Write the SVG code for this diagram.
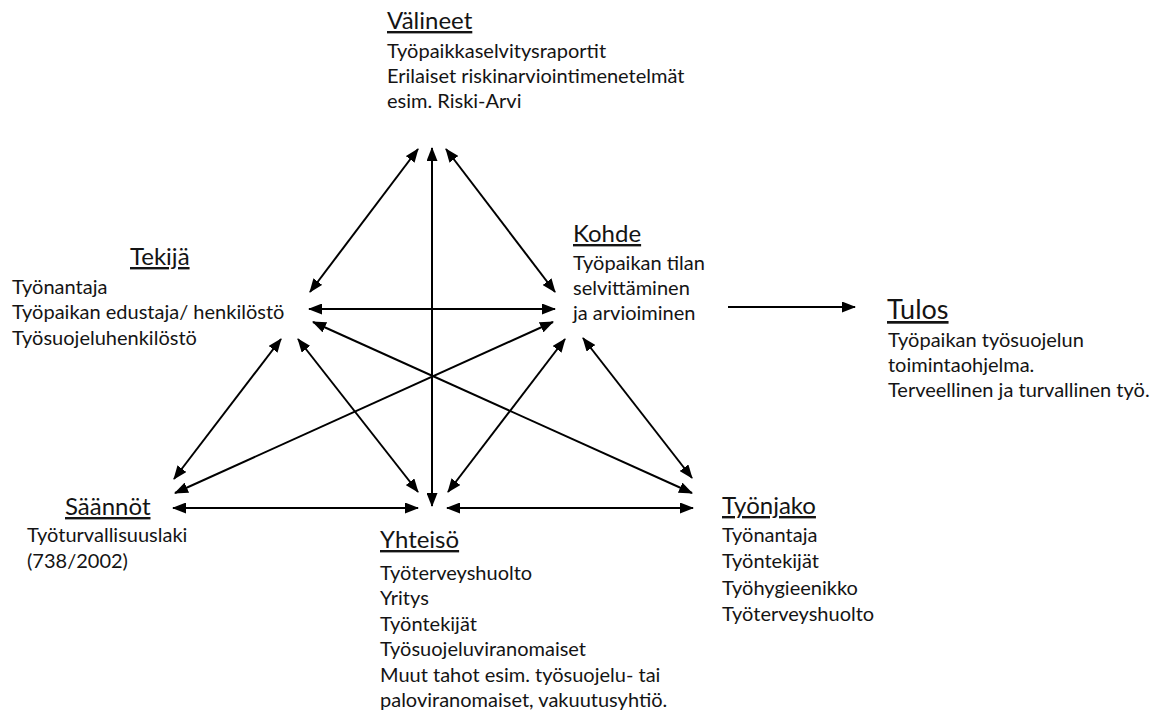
<svg xmlns="http://www.w3.org/2000/svg" width="1162" height="717" viewBox="0 0 1162 717">
  <style>
    text { font-family: Lato, "Open Sans", "Liberation Sans", sans-serif; fill: #141414; }
    .h { font-size: 24px; text-decoration: underline; }
    .h-big { font-size: 27px; text-decoration: underline; }
    .b { font-size: 20px; }
    .link { stroke: #000; stroke-width: 2; fill: none; }
    .two { marker-start: url(#head); marker-end: url(#head); }
    .one { marker-end: url(#head); }
  </style>
  <defs>
    <marker id="head" markerUnits="userSpaceOnUse" markerWidth="14" markerHeight="11" refX="13" refY="5.5" orient="auto-start-reverse">
      <path d="M0,0 L14,5.5 L0,11 Z" fill="#000"/>
    </marker>
  </defs>
  <rect width="1162" height="717" fill="#fff"/>

  <!-- connectors -->
  <g id="connectors">
    <line class="link two" x1="418" y1="149" x2="310" y2="292"/>
    <line class="link two" x1="432" y1="148" x2="432" y2="506"/>
    <line class="link two" x1="446" y1="149" x2="555" y2="292"/>
    <line class="link two" x1="309" y1="309" x2="555" y2="309"/>
    <line class="link two" x1="313" y1="322" x2="692" y2="493"/>
    <line class="link two" x1="553" y1="322" x2="175" y2="493"/>
    <line class="link two" x1="281" y1="339" x2="174" y2="479"/>
    <line class="link two" x1="298" y1="339" x2="418" y2="492"/>
    <line class="link two" x1="565" y1="339" x2="448" y2="492"/>
    <line class="link two" x1="583" y1="338" x2="692" y2="478"/>
    <line class="link two" x1="173" y1="508" x2="418" y2="508"/>
    <line class="link two" x1="447" y1="508" x2="693" y2="508"/>
    <line class="link one" x1="728" y1="307" x2="855" y2="307"/>
  </g>

  <g id="valineet">
    <text class="h" x="387" y="29">Välineet</text>
    <text class="b" x="387" y="58">Työpaikkaselvitysraportit</text>
    <text class="b" x="387" y="83">Erilaiset riskinarviointimenetelmät</text>
    <text class="b" x="387" y="108">esim. Riski-Arvi</text>
  </g>

  <g id="tekija">
    <text class="h" x="130" y="265">Tekijä</text>
    <text class="b" x="12" y="294">Työnantaja</text>
    <text class="b" x="12" y="319">Työpaikan edustaja/ henkilöstö</text>
    <text class="b" x="12" y="345">Työsuojeluhenkilöstö</text>
  </g>

  <g id="kohde">
    <text class="h" x="573" y="242">Kohde</text>
    <text class="b" x="573" y="270">Työpaikan tilan</text>
    <text class="b" x="573" y="295">selvittäminen</text>
    <text class="b" x="573" y="320">ja arvioiminen</text>
  </g>

  <g id="tulos">
    <text class="h-big" x="887" y="319">Tulos</text>
    <text class="b" x="888" y="347">Työpaikan työsuojelun</text>
    <text class="b" x="888" y="372">toimintaohjelma.</text>
    <text class="b" x="888" y="397">Terveellinen ja turvallinen työ.</text>
  </g>

  <g id="saannot">
    <text class="h" x="65" y="515">Säännöt</text>
    <text class="b" x="27" y="542">Työturvallisuuslaki</text>
    <text class="b" x="27" y="568">(738/2002)</text>
  </g>

  <g id="yhteiso">
    <text class="h" x="380" y="548">Yhteisö</text>
    <text class="b" x="380" y="580">Työterveyshuolto</text>
    <text class="b" x="380" y="605">Yritys</text>
    <text class="b" x="380" y="631">Työntekijät</text>
    <text class="b" x="380" y="656">Työsuojeluviranomaiset</text>
    <text class="b" x="380" y="682">Muut tahot esim. työsuojelu- tai</text>
    <text class="b" x="380" y="707">paloviranomaiset, vakuutusyhtiö.</text>
  </g>

  <g id="tyonjako">
    <text class="h" x="722" y="514">Työnjako</text>
    <text class="b" x="722" y="542">Työnantaja</text>
    <text class="b" x="722" y="568">Työntekijät</text>
    <text class="b" x="722" y="595">Työhygieenikko</text>
    <text class="b" x="722" y="621">Työterveyshuolto</text>
  </g>
</svg>
